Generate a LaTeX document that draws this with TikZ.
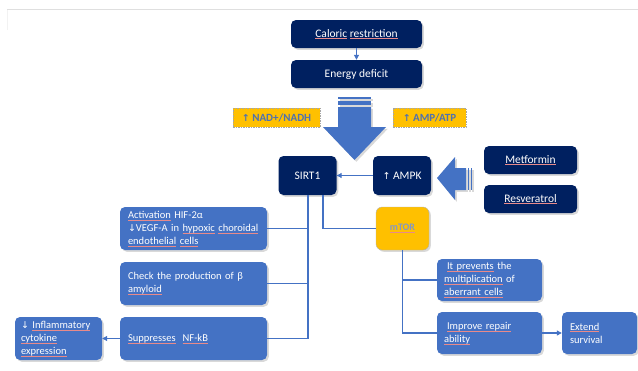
\documentclass[tikz,border=0pt]{standalone}
\usepackage{fontspec}
\setmainfont{Carlito}
\newfontfamily\arrowfont{DejaVu Sans}
\usetikzlibrary{arrows.meta,shadows,calc}
\definecolor{navy}{HTML}{002060}
\definecolor{mblue}{HTML}{4472C4}
\definecolor{gold}{HTML}{FFC000}
\definecolor{lbl}{HTML}{4F71B0}
\definecolor{squig}{HTML}{E88A8A}
\definecolor{mtortext}{HTML}{8298C8}
\newsavebox\sqbox
\newcommand\sq[1]{\sbox\sqbox{#1}\leavevmode\rlap{\textcolor{squig}{\rule[-1.8pt]{\wd\sqbox}{0.45pt}}}\usebox\sqbox}
\newcommand\ua{{\arrowfont\fontsize{9.5}{9}\selectfont ↑}}
\newcommand\da{{\arrowfont\fontsize{9.5}{9}\selectfont ↓}}
\begin{document}
\begin{tikzpicture}[x=1pt,y=-1pt,
  shd/.style={drop shadow={shadow xshift=1.8pt,shadow yshift=-1.8pt,opacity=0.3}},
  darkbox/.style={shd,fill=navy,rounded corners=5pt,text=white,inner sep=0pt,font=\fontsize{11.5}{13}\selectfont},
  bluebox/.style={shd,fill=mblue,rounded corners=5pt,text=white,inner xsep=8pt,inner ysep=0pt,align=left,font=\fontsize{10.5}{13}\selectfont},
  labelbox/.style={fill=gold,draw=gray!70,dash pattern=on 1.5pt off 1pt,inner sep=0pt,text=lbl,font=\bfseries\fontsize{11}{13}\selectfont},
  conn/.style={draw=mblue,line width=1.1pt},
  arr/.style={conn,-{Triangle[length=5pt,width=5pt]}},
  bigarrow/.style={fill=mblue,shd}]

\useasboundingbox (0,0) rectangle (638,370);
\draw[gray!25,line width=1.5pt] (7,9.5) -- (638,9.5);
\draw[gray!10,line width=0.8pt] (7,10) -- (7,30);

% top nodes
\node[darkbox,minimum width=131pt,minimum height=28pt] (cal) at (356.5,34) {\sq{Caloric} \sq{restriction}};
\node[darkbox,minimum width=131pt,minimum height=28pt] (en) at (356.5,74) {Energy deficit};

% labels
\node[labelbox,minimum width=87pt,minimum height=19pt] (nad) at (276.5,117.5) {\ua\ NAD+/NADH};
\node[labelbox,minimum width=73pt,minimum height=19pt] (amp) at (429.5,117.5) {\ua\ AMP/ATP};

% big down arrow
\fill[bigarrow] (338,97) rectangle (371,99);
\fill[bigarrow] (338,101) rectangle (371,105);
\fill[bigarrow] (338,107) -- (371,107) -- (371,127) -- (386,127) -- (354.5,160) -- (323,127) -- (338,127) -- cycle;

% SIRT1 / AMPK
\node[darkbox,minimum width=58pt,minimum height=39pt] (sirt) at (307.5,175.5) {SIRT1};
\node[darkbox,minimum width=58pt,minimum height=39pt] (ampk) at (402,175.5) {\ua\ AMPK};

% big left arrow
\fill[bigarrow] (437,178) -- (455,157) -- (455,168) -- (466,168) -- (466,190) -- (455,190) -- (455,200) -- cycle;
\fill[bigarrow] (467.5,168) rectangle (469,190);
\fill[bigarrow] (470.5,168) rectangle (472,190);

\node[darkbox,minimum width=93pt,minimum height=28pt] (met) at (530.5,160) {\sq{Metformin}};
\node[darkbox,minimum width=93pt,minimum height=28pt] (res) at (530.5,199) {\sq{Resveratrol}};

% mTOR
\node[shd,fill=gold,draw=gray!60,rounded corners=6pt,minimum width=53pt,minimum height=43pt,inner sep=0pt,text=mtortext,font=\bfseries\fontsize{10}{11}\selectfont] (mtor) at (402.5,228.5) {\sq{mTOR}};

% left boxes
\node[bluebox,text width=131pt,minimum height=43pt] (act) at (193.5,228.5)
  {\sq{Activation} HIF-2α\\\da VEGF-A in \sq{hypoxic} \sq{choroidal}\\\sq{endothelial} \sq{cells}};
\node[bluebox,text width=131pt,minimum height=43pt] (chk) at (193.5,283.5)
  {Check the production of β\\\sq{amyloid}};
\node[bluebox,text width=131pt,minimum height=43pt] (supp) at (193.5,338.5)
  {\sq{Suppresses}\ \ \sq{NF-kB}};
\node[bluebox,inner xsep=6pt,text width=75pt,minimum height=43pt] (infl) at (58.5,338.5)
  {\da\ \sq{Inflammatory}\\\sq{cytokine}\\\sq{expression}};

% right boxes
\node[bluebox,inner xsep=7pt,text width=91pt,minimum height=42pt] (prev) at (489.5,280)
  {\hspace*{3pt}\sq{It prevents} the\\\sq{multiplication} of\\\sq{aberrant cells}};
\node[bluebox,inner xsep=7pt,text width=91pt,minimum height=42pt] (imp) at (489.5,333)
  {\hspace*{3pt}\sq{Improve repair}\\\sq{ability}};
\node[bluebox,inner xsep=8pt,text width=59pt,minimum height=42pt] (ext) at (599.5,333)
  {\sq{Extend}\\survival};

% connectors
\draw[arr] (cal) -- (en);
\draw[arr] (ampk) -- (sirt);
\coordinate (sv) at ([xshift=0.5pt]sirt.south);
\coordinate (sm) at ([xshift=15.5pt]sirt.south);
\draw[conn] (sv) |- (supp.east);
\draw[conn] (act.east) -- (act.east -| sv);
\draw[conn] (chk.east) -- (chk.east -| sv);
\draw[conn] (sm) |- (mtor.west);
\draw[conn] (mtor.south) |- (imp.west);
\draw[conn] (prev.west) -- (prev.west -| mtor.south);
\draw[arr] (imp) -- (ext);
\draw[arr] (supp) -- (infl);
\end{tikzpicture}
\end{document}
